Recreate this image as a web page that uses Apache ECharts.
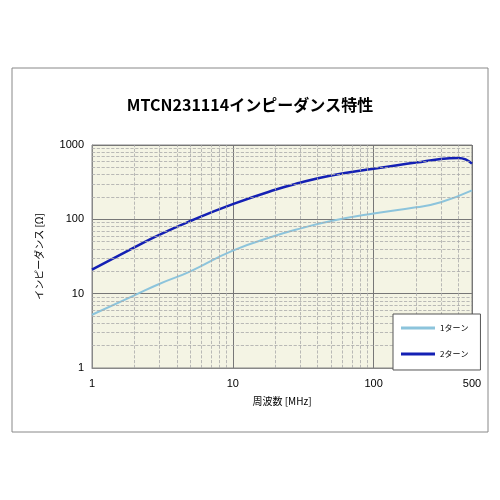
<!DOCTYPE html>
<html><head><meta charset="utf-8">
<script src="https://cdn.jsdelivr.net/npm/echarts@6/dist/echarts.min.js"></script>
<style>body{margin:0}#c{width:500px;height:500px}</style></head>
<body><div id="c"></div>
<script>
const freq1 = [1,2,3,5,10,20,30,50,100,200,300,500];
const imp1  = [5.2,9.5,13.5,20,38,60,75,95,120,145,170,245];
const freq2 = [1,2,3,5,10,20,30,50,100,200,300,400,450,500];
const imp2  = [21,42,62,95,160,250,310,390,480,580,650,670,640,560];
const minorX = [2,3,4,5,6,7,8,9,20,30,40,50,60,70,80,90,200,300,400];
const minorY = [2,3,4,5,6,7,8,9,20,30,40,50,60,70,80,90,200,300,400,500,600,700,800,900];
const ch = echarts.init(document.getElementById('c'));
const pair = (xs, ys) => xs.map((x,i)=>[x,ys[i]]);
const font = '"Noto Sans CJK JP", sans-serif';
ch.setOption({
  animation:false,
  title:{text:'MTCN231114インピーダンス特性',left:'center',top:92,textStyle:{fontSize:16,fontWeight:'bold',color:'#000',fontFamily:font}},
  grid:{left:92,right:28,top:145,bottom:132,backgroundColor:'#f4f4e4',show:true,borderColor:'#888',borderWidth:1},
  xAxis:{type:'log',min:1,max:500,logBase:10,name:'周波数 [MHz]',nameLocation:'middle',nameGap:28,
    nameTextStyle:{fontSize:10,fontFamily:font,color:'#000'},
    axisLabel:{fontSize:11,color:'#000',margin:10,showMaxLabel:true,formatter:v=>String(Math.round(v))},axisTick:{show:false},axisLine:{lineStyle:{color:'#888'}},
    splitLine:{show:true,lineStyle:{color:'#777',width:1}}},
  yAxis:{type:'log',min:1,max:1000,logBase:10,name:'インピーダンス [Ω]',nameLocation:'middle',nameGap:48,nameRotate:90,
    nameTextStyle:{fontSize:10,fontFamily:font,color:'#000'},
    axisLabel:{fontSize:11,color:'#000',formatter:v=>String(Math.round(v))},axisTick:{show:false},axisLine:{lineStyle:{color:'#888'}},
    splitLine:{show:true,lineStyle:{color:'#777',width:1}}},
  legend:{orient:'vertical',left:393,top:314,width:79,itemWidth:34,itemHeight:3,itemGap:18,padding:[10,12,12,8],z:20,
    backgroundColor:'#fff',borderColor:'#555',borderWidth:1,textStyle:{fontSize:8,fontFamily:font,color:'#000'},
    data:[{name:'1ターン',icon:'rect'},{name:'2ターン',icon:'rect'}]},
  graphic:[{type:'rect',shape:{x:12,y:68,width:476,height:364},style:{fill:'none',stroke:'#888',lineWidth:1},z:-10}],
  series:[
    {name:'minor',type:'line',data:[],silent:true,
     markLine:{silent:true,symbol:'none',label:{show:false},lineStyle:{color:'#aaa',type:'dashed',width:0.8},
       data:minorX.map(v=>({xAxis:v})).concat(minorY.map(v=>({yAxis:v})))}},
    {name:'1ターン',type:'line',data:pair(freq1,imp1),smooth:true,showSymbol:false,lineStyle:{color:'#8cc4dc',width:2},itemStyle:{color:'#8cc4dc'}},
    {name:'2ターン',type:'line',data:pair(freq2,imp2),smooth:true,showSymbol:false,lineStyle:{color:'#1420b4',width:2.5},itemStyle:{color:'#1420b4'}}
  ]
});
</script></body></html>
